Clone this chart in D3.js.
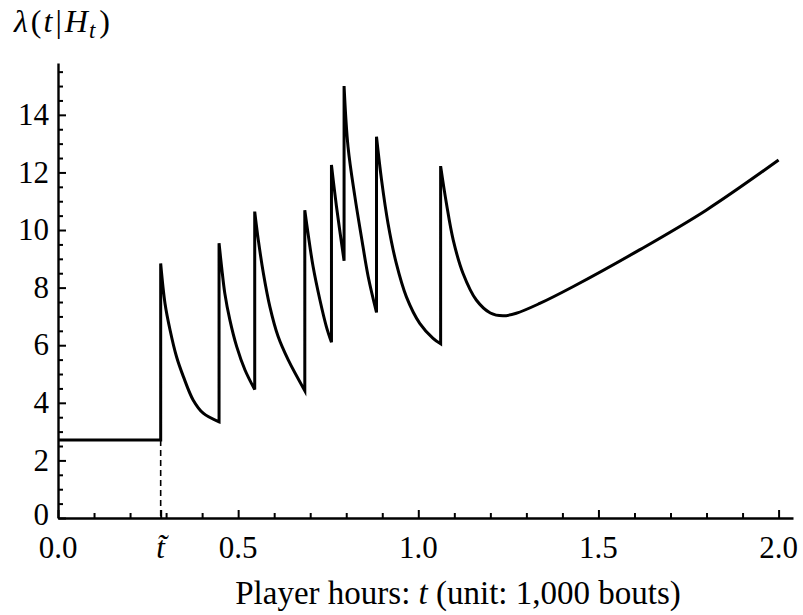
<!DOCTYPE html>
<html>
<head>
<meta charset="utf-8">
<script src="https://cdn.jsdelivr.net/npm/d3@7"></script>
<style>
  body { margin: 0; background: #fff; }
  svg { display: block; }
</style>
</head>
<body>
<div id="chart"></div>
<script>
// Values
const tTilde = 0.285;
const baseLevel = 2.71;

// each decay segment starts right after a jump (time, intensity)
const segTimes = [
  [0.285, 0.297, 0.311, 0.329, 0.348, 0.375, 0.403, 0.447],
  [0.447, 0.454, 0.463, 0.477, 0.496, 0.519, 0.546],
  [0.546, 0.556, 0.570, 0.588, 0.611, 0.639, 0.685],
  [0.685, 0.694, 0.708, 0.727, 0.745, 0.759],
  [0.759, 0.773, 0.794],
  [0.794, 0.805, 0.824, 0.842, 0.861, 0.884],
  [0.884, 0.898, 0.916, 0.939, 0.967, 1.004, 1.041, 1.062],
  [1.062, 1.078, 1.097, 1.124, 1.161, 1.200, 1.235, 1.272, 1.337, 1.429, 1.614, 1.799, 2.0]
];
const segLambdas = [
  [8.84, 7.45, 6.53, 5.60, 4.91, 4.10, 3.64, 3.34],
  [9.54, 8.73, 7.80, 6.88, 5.95, 5.14, 4.46],
  [10.64, 9.65, 8.50, 7.34, 6.30, 5.49, 4.42],
  [10.69, 9.88, 8.73, 7.57, 6.64, 6.10],
  [12.26, 10.81, 8.93],
  [15.0, 12.89, 11.16, 9.77, 8.38, 7.14],
  [13.24, 11.74, 10.23, 8.84, 7.68, 6.76, 6.24, 6.05],
  [12.22, 10.93, 9.65, 8.50, 7.57, 7.12, 7.02, 7.11, 7.45, 8.03, 9.31, 10.69, 12.43]
];

const yMajor = [0, 2, 4, 6, 8, 10, 12, 14];
const xMajor = [0, 0.5, 1.0, 1.5, 2.0];
const xLabels = ["0.0", "0.5", "1.0", "1.5", "2.0"];

const width = 803, height = 615;
const serif = "Liberation Serif, Times New Roman, Times, Tinos, Noto Serif, DejaVu Serif, serif";

const svg = d3.select("#chart").append("svg")
  .attr("width", width)
  .attr("height", height)
  .attr("font-family", serif);

const x = d3.scaleLinear().domain([0, 2.04]).range([58, 793]);
const y = d3.scaleLinear().domain([0, 15.8]).range([518, 63]);

// minor ticks
const xMinor = d3.range(0, 2.001, 0.1).filter(d => Math.abs(d * 2 - Math.round(d * 2)) > 1e-6);
const yMinor = d3.range(0, 15.8, 0.5).filter(d => d % 2 !== 0);

svg.append("g")
  .attr("transform", `translate(0,${y(0)})`)
  .call(d3.axisBottom(x).tickValues(xMinor).tickSize(-5).tickSizeOuter(0).tickFormat(""))
  .call(g => g.selectAll("line").attr("stroke-width", 2))
  .call(g => g.select(".domain").attr("stroke-width", 2.4));

svg.append("g")
  .attr("transform", `translate(0,${y(0)})`)
  .call(d3.axisBottom(x).tickValues(xMajor.concat([tTilde])).tickSize(-8).tickSizeOuter(0).tickFormat(""))
  .call(g => g.selectAll("line").attr("stroke-width", 2))
  .call(g => g.select(".domain").remove());

svg.append("g")
  .attr("transform", `translate(${x(0)},0)`)
  .call(d3.axisLeft(y).tickValues(yMinor).tickSize(-5).tickSizeOuter(0).tickFormat(""))
  .call(g => g.selectAll("line").attr("stroke-width", 2))
  .call(g => g.select(".domain").attr("stroke-width", 2.4));

svg.append("g")
  .attr("transform", `translate(${x(0)},0)`)
  .call(d3.axisLeft(y).tickValues(yMajor).tickSize(-8).tickSizeOuter(0).tickFormat(""))
  .call(g => g.selectAll("line").attr("stroke-width", 2))
  .call(g => g.select(".domain").remove());

// tick labels
svg.append("g").selectAll("text")
  .data(yMajor)
  .enter().append("text")
  .attr("x", 49)
  .attr("y", d => y(d) - (d === 0 ? 3 : 0))
  .attr("dy", "0.33em")
  .attr("text-anchor", "end")
  .attr("font-family", serif)
  .style("font-size", "31px")
  .text(d => d);

svg.append("g").selectAll("text")
  .data(xMajor)
  .enter().append("text")
  .attr("x", d => x(d))
  .attr("y", 558)
  .attr("text-anchor", "middle")
  .attr("font-family", serif)
  .style("font-size", "31px")
  .text((d, i) => xLabels[i]);

svg.append("text")
  .attr("x", x(tTilde))
  .attr("y", 558)
  .attr("text-anchor", "middle")
  .attr("font-family", serif)
  .style("font-size", "31px")
  .style("font-style", "italic")
  .text("t\u0303");

// dashed marker at t tilde
svg.append("line")
  .attr("x1", x(tTilde)).attr("x2", x(tTilde))
  .attr("y1", y(baseLevel)).attr("y2", y(0))
  .attr("stroke", "#000")
  .attr("stroke-width", 1.6)
  .attr("stroke-dasharray", "6,4");

// intensity curve: flat baseline, then decays joined by vertical jumps
const line = d3.line()
  .x(d => x(d[0]))
  .y(d => y(d[1]))
  .curve(d3.curveCatmullRom.alpha(0.5));

let pathStr = `M${x(0)},${y(baseLevel)}L${x(tTilde)},${y(baseLevel)}`;
segTimes.forEach((ts, i) => {
  const pts = ts.map((t, j) => [t, segLambdas[i][j]]);
  pathStr += line(pts).replace(/^M/, "L");
});

svg.append("path")
  .attr("d", pathStr)
  .attr("fill", "none")
  .attr("stroke", "#000")
  .attr("stroke-width", 3)
  .attr("stroke-linejoin", "miter");

// axis titles
const xt = svg.append("text")
  .attr("x", 458)
  .attr("y", 604)
  .attr("text-anchor", "middle")
  .attr("font-family", serif)
  .style("font-size", "33px");
xt.append("tspan").text("Player hours: ");
xt.append("tspan").style("font-style", "italic").text("t");
xt.append("tspan").text(" (unit: 1,000 bouts)");

const yt = svg.append("text")
  .attr("x", 14)
  .attr("y", 32)
  .attr("font-family", serif)
  .style("font-size", "32px");
yt.append("tspan").style("font-style", "italic").text("\u03bb");
yt.append("tspan").attr("dx", 3).text("(");
yt.append("tspan").attr("dx", 2).style("font-style", "italic").text("t");
yt.append("tspan").attr("dx", 3).text("|");
yt.append("tspan").attr("dx", 3).style("font-style", "italic").text("H");
yt.append("tspan").style("font-style", "italic").style("font-size", "23px").attr("dx", 1).attr("dy", 6).text("t");
yt.append("tspan").attr("dx", 4).attr("dy", -6).text(")");
</script>
</body>
</html>
